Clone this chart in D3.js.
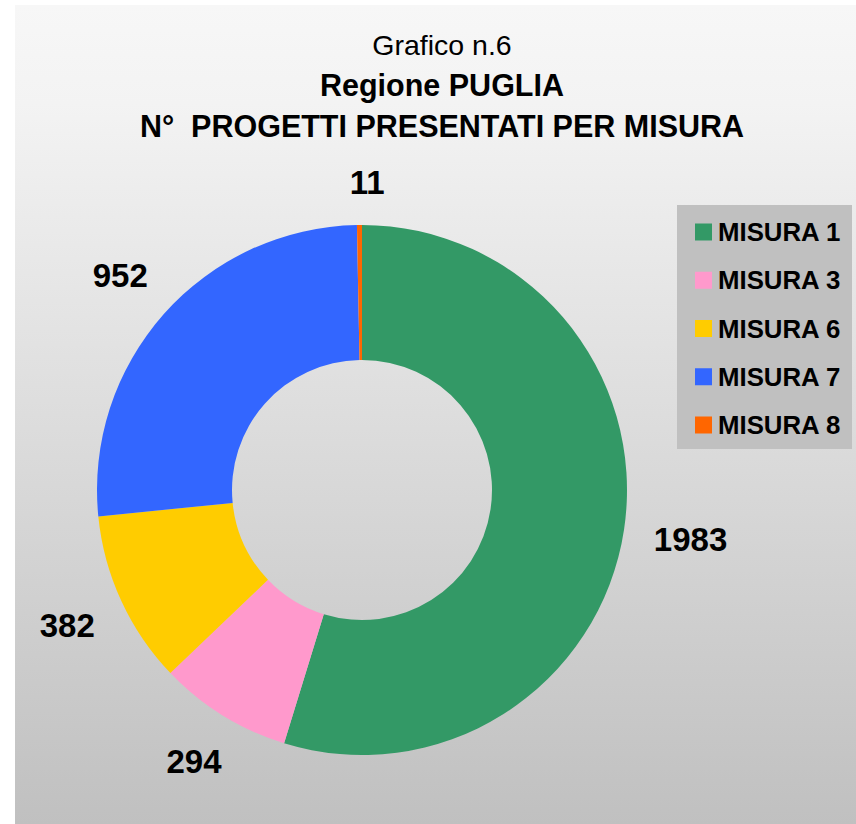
<!DOCTYPE html>
<html lang="en">
  <head>
    <meta charset="utf-8">
    <title>Grafico n.6 - Regione PUGLIA</title>
    <script src="https://d3js.org/d3.v7.js"></script>
    <style>
      body { margin: 0; background: #ffffff; }
      text { font-family: "Liberation Sans", Arial, sans-serif; white-space: pre; }
    </style>
  </head>

  <body>
    <svg></svg>

  <script>

// data

  const categories = ["MISURA 1", "MISURA 3", "MISURA 6", "MISURA 7", "MISURA 8"];
  const values = [1983, 294, 382, 952, 11];
  const colors = ["#339966", "#ff99cc", "#ffcc00", "#3366ff", "#ff6600"];
  const titleLines = ["Grafico n.6", "Regione PUGLIA", "N°  PROGETTI PRESENTATI PER MISURA"];

  const w = 856;
  const h = 824;
  const cx = 362;
  const cy = 490;
  const outerR = 265;
  const innerR = 130;

  const svg = d3.select("svg")
      .attr("width", w)
      .attr("height", h)
      .style("display", "block");

// background with vertical gradient

  const grad = svg.append("defs").append("linearGradient")
      .attr("id", "bg")
      .attr("x1", 0).attr("y1", 0)
      .attr("x2", 0).attr("y2", 1);
  grad.append("stop").attr("offset", 0).attr("stop-color", "#f7f7f7");
  grad.append("stop").attr("offset", 0.12).attr("stop-color", "#f3f3f3");
  grad.append("stop").attr("offset", 1).attr("stop-color", "#c0c0c0");

  svg.append("rect")
      .attr("x", 15)
      .attr("y", 5)
      .attr("width", w - 15)
      .attr("height", h - 5)
      .attr("fill", "url(#bg)");

// title

  const title = svg.append("g");
  titleLines.forEach((t, i) => {
    title.append("text")
        .attr("x", 442)
        .attr("y", 55 + i * 41)
        .attr("text-anchor", "middle")
        .attr("font-size", i === 0 ? 28.5 : 30.5)
        .attr("font-weight", i === 0 ? "normal" : "bold")
        .attr("fill", "#000")
        .text(t);
  });

// donut

  const pie = d3.pie()
      .sort(null)
      .value(d => d)
      .startAngle(0)
      .endAngle(2 * Math.PI);

  const arcs = pie(values);

  const arc = d3.arc()
      .innerRadius(innerR)
      .outerRadius(outerR);

  const plot = svg.append("g")
      .attr("transform", `translate(${cx}, ${cy})`);

  plot.selectAll("path")
      .data(arcs)
    .enter().append("path")
      .attr("d", arc)
      .attr("fill", (d, i) => colors[i]);

// value labels, pushed outside the ring so the box clears the edge

  const gap = 29;
  plot.selectAll("text.val")
      .data(arcs)
    .enter().append("text")
      .attr("class", "val")
      .attr("text-anchor", "middle")
      .attr("dominant-baseline", "central")
      .attr("font-size", 33)
      .attr("font-weight", "bold")
      .attr("fill", "#000")
      .text(d => d.data)
      .each(function(d) {
        const box = this.getBBox();
        const mid = (d.startAngle + d.endAngle) / 2;
        const ux = Math.sin(mid);
        const uy = -Math.cos(mid);
        const ext = Math.abs(ux) * box.width / 2 + Math.abs(uy) * 13;
        const r = outerR + gap + ext;
        d3.select(this)
            .attr("x", ux * r + (d.index === 4 ? 8 : 0))
            .attr("y", uy * r);
      });

// legend

  const legend = svg.append("g")
      .attr("transform", "translate(677, 205)");

  legend.append("rect")
      .attr("width", 175)
      .attr("height", 244)
      .attr("fill", "#c0c0c0");

  const rowY = d3.scalePoint()
      .domain(categories)
      .range([27, 220]);

  const rows = legend.selectAll("g.row")
      .data(categories)
    .enter().append("g")
      .attr("class", "row")
      .attr("transform", d => `translate(0, ${rowY(d)})`);

  rows.append("rect")
      .attr("x", 18)
      .attr("y", -8.5)
      .attr("width", 17)
      .attr("height", 17)
      .attr("fill", (d, i) => colors[i]);

  rows.append("text")
      .attr("x", 41)
      .attr("y", 9)
      .attr("font-size", 25.8)
      .attr("font-weight", "bold")
      .attr("fill", "#000")
      .text(d => d);

    </script>

  </body>

</html>
